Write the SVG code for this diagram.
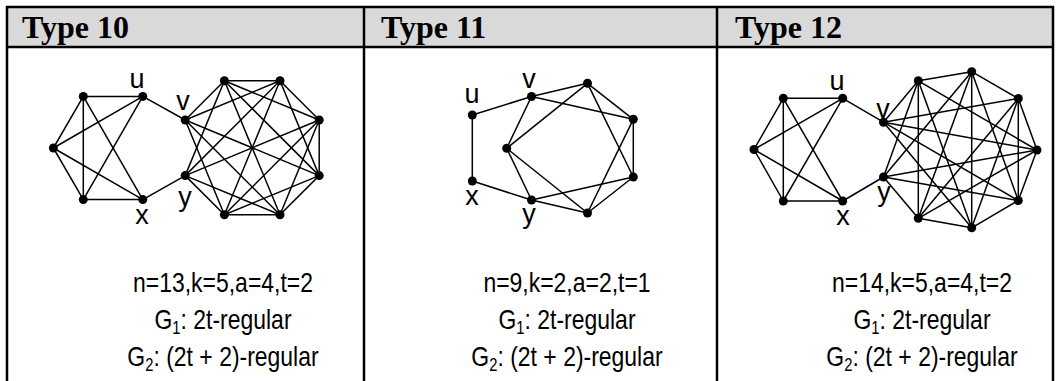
<svg xmlns="http://www.w3.org/2000/svg" width="1060" height="381" viewBox="0 0 1060 381">
<style>
.hdr{fill:#d9d9d9}
.bd{stroke:#000;stroke-width:2.5;fill:none}
.e line{stroke:#000;stroke-width:1.5}
.n circle{fill:#000}
.h{font-family:"Liberation Serif","Times New Roman",serif;font-weight:bold;font-size:32px;fill:#000}
.lb{font-family:"Liberation Sans",Arial,sans-serif;font-size:27px;fill:#000;text-anchor:middle}
.cap{font-family:"Liberation Sans",Arial,sans-serif;font-size:28px;fill:#000;text-anchor:middle}
</style>
<rect width="1060" height="381" fill="#fff"/>
<g id="table">
<rect class="hdr" x="7" y="7" width="1046" height="40"/>
<path class="bd" d="M7,381 V7 H1053 V381 M7,47 H1053 M364,7 V381 M717,7 V381"/>
<text class="h" x="22" y="38">Type 10</text>
<text class="h" x="381" y="38">Type 11</text>
<text class="h" x="735" y="38">Type 12</text>
</g>
<g id="connectors" class="e">
<!-- Type 10 G1 -->
<line x1="83.3" y1="96.4" x2="142.8" y2="96.4"/>
<line x1="83.3" y1="96.4" x2="53.4" y2="148"/>
<line x1="83.3" y1="96.4" x2="83.3" y2="199.6"/>
<line x1="83.3" y1="96.4" x2="142.8" y2="199.6"/>
<line x1="142.8" y1="96.4" x2="53.4" y2="148"/>
<line x1="142.8" y1="96.4" x2="83.3" y2="199.6"/>
<line x1="53.4" y1="148" x2="83.3" y2="199.6"/>
<line x1="53.4" y1="148" x2="142.8" y2="199.6"/>
<line x1="83.3" y1="199.6" x2="142.8" y2="199.6"/>
<line x1="142.8" y1="96.4" x2="185.2" y2="120"/>
<line x1="142.8" y1="199.6" x2="185.2" y2="175.6"/>
<!-- Type 10 G2 -->
<line x1="185.2" y1="120" x2="224.4" y2="80.8"/>
<line x1="185.2" y1="120" x2="280" y2="80.8"/>
<line x1="185.2" y1="120" x2="319.2" y2="175.6"/>
<line x1="185.2" y1="120" x2="280" y2="214.8"/>
<line x1="185.2" y1="120" x2="224.4" y2="214.8"/>
<line x1="185.2" y1="175.6" x2="224.4" y2="80.8"/>
<line x1="185.2" y1="175.6" x2="280" y2="80.8"/>
<line x1="185.2" y1="175.6" x2="319.2" y2="120"/>
<line x1="185.2" y1="175.6" x2="280" y2="214.8"/>
<line x1="185.2" y1="175.6" x2="224.4" y2="214.8"/>
<line x1="224.4" y1="80.8" x2="280" y2="80.8"/>
<line x1="224.4" y1="80.8" x2="319.2" y2="120"/>
<line x1="224.4" y1="80.8" x2="319.2" y2="175.6"/>
<line x1="224.4" y1="80.8" x2="280" y2="214.8"/>
<line x1="280" y1="80.8" x2="319.2" y2="120"/>
<line x1="280" y1="80.8" x2="319.2" y2="175.6"/>
<line x1="280" y1="80.8" x2="224.4" y2="214.8"/>
<line x1="319.2" y1="120" x2="319.2" y2="175.6"/>
<line x1="319.2" y1="120" x2="224.4" y2="214.8"/>
<line x1="319.2" y1="120" x2="280" y2="214.8"/>
<line x1="319.2" y1="175.6" x2="224.4" y2="214.8"/>
<line x1="319.2" y1="175.6" x2="280" y2="214.8"/>
<line x1="224.4" y1="214.8" x2="280" y2="214.8"/>
<!-- Type 11 -->
<line x1="472.3" y1="115" x2="531.5" y2="96.5"/>
<line x1="472.3" y1="115" x2="472.3" y2="181"/>
<line x1="472.3" y1="181" x2="531.5" y2="200"/>
<line x1="531.5" y1="96.5" x2="587.5" y2="83.3"/>
<line x1="531.5" y1="96.5" x2="633.3" y2="119.3"/>
<line x1="531.5" y1="96.5" x2="506.7" y2="148.3"/>
<line x1="587.5" y1="83.3" x2="506.7" y2="148.3"/>
<line x1="587.5" y1="83.3" x2="633.3" y2="119.3"/>
<line x1="587.5" y1="83.3" x2="633.3" y2="177"/>
<line x1="633.3" y1="119.3" x2="633.3" y2="177"/>
<line x1="633.3" y1="119.3" x2="587.5" y2="213"/>
<line x1="633.3" y1="177" x2="531.5" y2="200"/>
<line x1="633.3" y1="177" x2="587.5" y2="213"/>
<line x1="587.5" y1="213" x2="531.5" y2="200"/>
<line x1="587.5" y1="213" x2="506.7" y2="148.3"/>
<line x1="506.7" y1="148.3" x2="531.5" y2="200"/>
<!-- Type 12 G1 -->
<line x1="783.3" y1="98.3" x2="842.7" y2="98.3"/>
<line x1="783.3" y1="98.3" x2="754" y2="149.5"/>
<line x1="783.3" y1="98.3" x2="783.3" y2="201"/>
<line x1="783.3" y1="98.3" x2="842.7" y2="201"/>
<line x1="842.7" y1="98.3" x2="754" y2="149.5"/>
<line x1="842.7" y1="98.3" x2="783.3" y2="201"/>
<line x1="754" y1="149.5" x2="783.3" y2="201"/>
<line x1="754" y1="149.5" x2="842.7" y2="201"/>
<line x1="783.3" y1="201" x2="842.7" y2="201"/>
<line x1="842.7" y1="98.3" x2="883.5" y2="122.2"/>
<line x1="842.7" y1="201" x2="883.5" y2="177"/>
<!-- Type 12 G2 -->
<line x1="883.5" y1="122.2" x2="918.3" y2="80.8"/>
<line x1="883.5" y1="122.2" x2="1018.3" y2="98.5"/>
<line x1="883.5" y1="122.2" x2="1037" y2="150"/>
<line x1="883.5" y1="122.2" x2="1018.3" y2="200.5"/>
<line x1="883.5" y1="122.2" x2="971.7" y2="227.8"/>
<line x1="883.5" y1="177" x2="918.3" y2="80.8"/>
<line x1="883.5" y1="177" x2="971.7" y2="71.7"/>
<line x1="883.5" y1="177" x2="1037" y2="150"/>
<line x1="883.5" y1="177" x2="1018.3" y2="200.5"/>
<line x1="883.5" y1="177" x2="918.3" y2="218.3"/>
<line x1="918.3" y1="80.8" x2="971.7" y2="71.7"/>
<line x1="918.3" y1="80.8" x2="1037" y2="150"/>
<line x1="918.3" y1="80.8" x2="971.7" y2="227.8"/>
<line x1="918.3" y1="80.8" x2="918.3" y2="218.3"/>
<line x1="971.7" y1="71.7" x2="1018.3" y2="98.5"/>
<line x1="971.7" y1="71.7" x2="1018.3" y2="200.5"/>
<line x1="971.7" y1="71.7" x2="971.7" y2="227.8"/>
<line x1="971.7" y1="71.7" x2="918.3" y2="218.3"/>
<line x1="1018.3" y1="98.5" x2="1037" y2="150"/>
<line x1="1018.3" y1="98.5" x2="1018.3" y2="200.5"/>
<line x1="1018.3" y1="98.5" x2="971.7" y2="227.8"/>
<line x1="1018.3" y1="98.5" x2="918.3" y2="218.3"/>
<line x1="1037" y1="150" x2="1018.3" y2="200.5"/>
<line x1="1037" y1="150" x2="918.3" y2="218.3"/>
<line x1="1018.3" y1="200.5" x2="971.7" y2="227.8"/>
<line x1="971.7" y1="227.8" x2="918.3" y2="218.3"/>
</g>
<g class="n">
<g id="t10-a"><circle cx="83.3" cy="96.4" r="4.5"/></g>
<g id="t10-u"><circle cx="142.8" cy="96.4" r="4.5"/><text class="lb" x="137" y="88">u</text></g>
<g id="t10-c"><circle cx="53.4" cy="148" r="4.5"/></g>
<g id="t10-d"><circle cx="83.3" cy="199.6" r="4.5"/></g>
<g id="t10-x"><circle cx="142.8" cy="199.6" r="4.5"/><text class="lb" x="142" y="224">x</text></g>
<g id="t10-v"><circle cx="185.2" cy="120" r="4.5"/><text class="lb" x="183" y="110">v</text></g>
<g id="t10-y"><circle cx="185.2" cy="175.6" r="4.5"/><text class="lb" x="185" y="206">y</text></g>
<g id="t10-t1"><circle cx="224.4" cy="80.8" r="4.5"/></g>
<g id="t10-t2"><circle cx="280" cy="80.8" r="4.5"/></g>
<g id="t10-r1"><circle cx="319.2" cy="120" r="4.5"/></g>
<g id="t10-r2"><circle cx="319.2" cy="175.6" r="4.5"/></g>
<g id="t10-b2"><circle cx="280" cy="214.8" r="4.5"/></g>
<g id="t10-b1"><circle cx="224.4" cy="214.8" r="4.5"/></g>

<g id="t11-u"><circle cx="472.3" cy="115" r="4.5"/><text class="lb" x="472" y="103">u</text></g>
<g id="t11-x"><circle cx="472.3" cy="181" r="4.5"/><text class="lb" x="472" y="205">x</text></g>
<g id="t11-v"><circle cx="531.5" cy="96.5" r="4.5"/><text class="lb" x="529" y="88">v</text></g>
<g id="t11-y"><circle cx="531.5" cy="200" r="4.5"/><text class="lb" x="529" y="223">y</text></g>
<g id="t11-t"><circle cx="587.5" cy="83.3" r="4.5"/></g>
<g id="t11-r1"><circle cx="633.3" cy="119.3" r="4.5"/></g>
<g id="t11-r2"><circle cx="633.3" cy="177" r="4.5"/></g>
<g id="t11-b"><circle cx="587.5" cy="213" r="4.5"/></g>
<g id="t11-l"><circle cx="506.7" cy="148.3" r="4.5"/></g>

<g id="t12-a"><circle cx="783.3" cy="98.3" r="4.5"/></g>
<g id="t12-u"><circle cx="842.7" cy="98.3" r="4.5"/><text class="lb" x="837" y="90">u</text></g>
<g id="t12-c"><circle cx="754" cy="149.5" r="4.5"/></g>
<g id="t12-d"><circle cx="783.3" cy="201" r="4.5"/></g>
<g id="t12-x"><circle cx="842.7" cy="201" r="4.5"/><text class="lb" x="843" y="225">x</text></g>
<g id="t12-v"><circle cx="883.5" cy="122.2" r="4.5"/><text class="lb" x="883" y="118">v</text></g>
<g id="t12-y"><circle cx="883.5" cy="177" r="4.5"/><text class="lb" x="884" y="201">y</text></g>
<g id="t12-t1"><circle cx="918.3" cy="80.8" r="4.5"/></g>
<g id="t12-t"><circle cx="971.7" cy="71.7" r="4.5"/></g>
<g id="t12-t2"><circle cx="1018.3" cy="98.5" r="4.5"/></g>
<g id="t12-r"><circle cx="1037" cy="150" r="4.5"/></g>
<g id="t12-b2"><circle cx="1018.3" cy="200.5" r="4.5"/></g>
<g id="t12-b"><circle cx="971.7" cy="227.8" r="4.5"/></g>
<g id="t12-b1"><circle cx="918.3" cy="218.3" r="4.5"/></g>
</g>
<g id="captions">
<text class="cap" transform="translate(223,292) scale(0.82,1)">n=13,k=5,a=4,t=2</text>
<text class="cap" transform="translate(223,329) scale(0.82,1)">G<tspan font-size="18" dy="5">1</tspan><tspan dy="-5">: 2t-regular</tspan></text>
<text class="cap" transform="translate(223,366) scale(0.82,1)">G<tspan font-size="18" dy="5">2</tspan><tspan dy="-5">: (2t + 2)-regular</tspan></text>
<text class="cap" transform="translate(567,292) scale(0.82,1)">n=9,k=2,a=2,t=1</text>
<text class="cap" transform="translate(567,329) scale(0.82,1)">G<tspan font-size="18" dy="5">1</tspan><tspan dy="-5">: 2t-regular</tspan></text>
<text class="cap" transform="translate(567,366) scale(0.82,1)">G<tspan font-size="18" dy="5">2</tspan><tspan dy="-5">: (2t + 2)-regular</tspan></text>
<text class="cap" transform="translate(922,292) scale(0.82,1)">n=14,k=5,a=4,t=2</text>
<text class="cap" transform="translate(922,329) scale(0.82,1)">G<tspan font-size="18" dy="5">1</tspan><tspan dy="-5">: 2t-regular</tspan></text>
<text class="cap" transform="translate(922,366) scale(0.82,1)">G<tspan font-size="18" dy="5">2</tspan><tspan dy="-5">: (2t + 2)-regular</tspan></text>
</g>
</svg>
